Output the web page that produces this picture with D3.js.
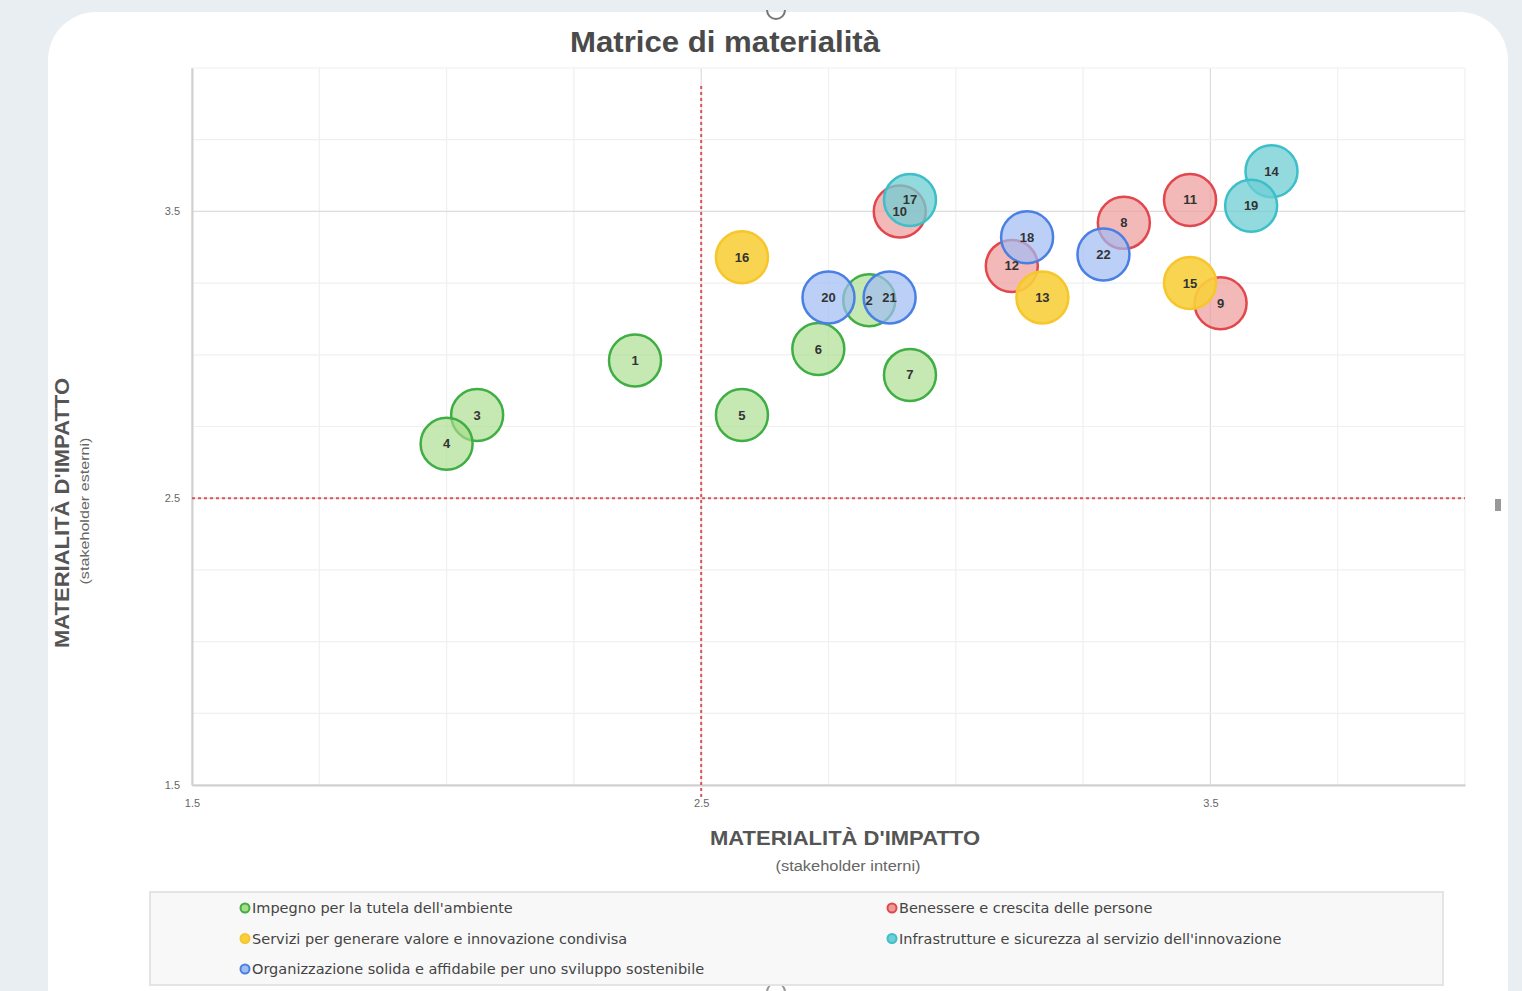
<!DOCTYPE html>
<html>
<head>
<meta charset="utf-8">
<script src="https://cdn.jsdelivr.net/npm/d3@7"></script>
<style>
  body { margin: 0; background: #e8eef1; }
  svg { display: block; }
</style>
</head>
<body>
<svg id="svgRoot" width="1522" height="991"></svg>
<script>
// data
const ids = [1, 2, 3, 4, 5, 6, 7, 8, 9, 10, 11, 12, 13, 14, 15, 16, 17, 18, 19, 20, 21, 22]
const impact_interni = [2.37, 2.83, 2.06, 2.0, 2.58, 2.73, 2.91, 3.33, 3.52, 2.89, 3.46, 3.11, 3.17, 3.62, 3.46, 2.58, 2.91, 3.14, 3.58, 2.75, 2.87, 3.29]
const impact_esterni = [2.98, 3.19, 2.79, 2.69, 2.79, 3.02, 2.93, 3.46, 3.18, 3.5, 3.54, 3.31, 3.2, 3.64, 3.25, 3.34, 3.54, 3.41, 3.52, 3.2, 3.2, 3.35]
const group_of = ["amb", "amb", "amb", "amb", "amb", "amb", "amb", "pers", "pers", "pers", "pers", "pers", "serv", "infra", "serv", "serv", "infra", "org", "infra", "org", "org", "org"]

const groups = ["amb", "pers", "serv", "infra", "org"]
const group_names = [
  "Impegno per la tutela dell'ambiente",
  "Benessere e crescita delle persone",
  "Servizi per generare valore e innovazione condivisa",
  "Infrastrutture e sicurezza al servizio dell'innovazione",
  "Organizzazione solida e affidabile per uno sviluppo sostenibile"
]
const x_ticks = [1.5, 2.5, 3.5]
const y_ticks = [1.5, 2.5, 3.5]
const threshold = 2.5

const colors = {
  amb:   { fill: "#a8dc8a", stroke: "#3fae44", op: 0.65 },
  pers:  { fill: "#ee9a9a", stroke: "#e2474d", op: 0.7 },
  serv:  { fill: "#f8cf3e", stroke: "#f6c62a", op: 0.9 },
  infra: { fill: "#6fcdd4", stroke: "#3cbfc8", op: 0.75 },
  org:   { fill: "#9fbcf3", stroke: "#4a7fe3", op: 0.7 }
}

let data = ids.map((id, i) => ({ id: id, x: impact_interni[i], y: impact_esterni[i], g: group_of[i] }))

let svg = d3.select("#svgRoot")
const font = "'Liberation Sans', Arial, sans-serif"
const font2 = "'DejaVu Sans', Verdana, sans-serif"

// card
svg.append("rect").attr("x", 48).attr("y", 12).attr("width", 1460).attr("height", 1040)
  .attr("rx", 48).attr("fill", "#ffffff")

// little handles (top / bottom)
svg.append("path").attr("d", "M767,10 A8,8 0 0 0 785,10").attr("fill", "none")
  .attr("stroke", "#777").attr("stroke-width", 2)
svg.append("path").attr("d", "M767,992 A8,8 0 0 1 785,992").attr("fill", "none")
  .attr("stroke", "#999").attr("stroke-width", 2)

const margin = { top: 68, left: 192, bottom: 785, right: 1465 }

let scale_x = d3.scaleLinear().domain([1.5, 4.0]).range([margin.left, margin.right])
let scale_y = d3.scaleLinear().domain([1.5, 4.0]).range([margin.bottom, margin.top])

// title
svg.append("text").attr("x", 725).attr("y", 52).attr("text-anchor", "middle")
  .attr("font-family", font).attr("font-weight", "bold").attr("font-size", "30px")
  .attr("textLength", 310).attr("lengthAdjust", "spacingAndGlyphs")
  .attr("fill", "#4a4a4a").text("Matrice di materialità")

// grid
let g_grid = svg.append("g").attr("class", "g_grid")
let minor = d3.range(1.5, 4.001, 0.25)
g_grid.selectAll(".vgrid").data(minor).enter().append("line")
  .attr("x1", (d) => scale_x(d)).attr("x2", (d) => scale_x(d))
  .attr("y1", margin.top).attr("y2", margin.bottom)
  .attr("stroke", (d) => x_ticks.includes(d) ? "#dcdcdc" : "#f0f0f0").attr("stroke-width", 1.2)
g_grid.selectAll(".hgrid").data(minor).enter().append("line")
  .attr("y1", (d) => scale_y(d)).attr("y2", (d) => scale_y(d))
  .attr("x1", margin.left).attr("x2", margin.right)
  .attr("stroke", (d) => y_ticks.includes(d) ? "#dcdcdc" : "#f0f0f0").attr("stroke-width", 1.2)

// axes
let g_xAxis = svg.append("g").attr("transform", "translate(0," + margin.bottom + ")")
  .call(d3.axisBottom(scale_x).tickValues(x_ticks).tickSize(0).tickPadding(14).tickFormat(d3.format(".1f")))
let g_yAxis = svg.append("g").attr("transform", "translate(" + margin.left + ",0)")
  .call(d3.axisLeft(scale_y).tickValues(y_ticks).tickSize(0).tickPadding(12).tickFormat(d3.format(".1f")))
svg.selectAll(".domain").attr("stroke", "#d0d0d0").attr("stroke-width", 2)
svg.selectAll(".tick text").attr("font-family", font).attr("font-size", "11px").attr("fill", "#666")

// threshold lines
svg.append("line").attr("x1", scale_x(threshold)).attr("x2", scale_x(threshold))
  .attr("y1", 86).attr("y2", margin.bottom + 14)
  .attr("stroke", "#d9545c").attr("stroke-width", 2).attr("stroke-dasharray", "3,3")
svg.append("line").attr("x1", margin.left).attr("x2", margin.right)
  .attr("y1", scale_y(threshold)).attr("y2", scale_y(threshold))
  .attr("stroke", "#d9545c").attr("stroke-width", 2).attr("stroke-dasharray", "3,3")
svg.append("rect").attr("x", 1495).attr("y", 499).attr("width", 6).attr("height", 12).attr("fill", "#999")

// bubbles: circles first, then all labels on top
let g_bubbles = svg.append("g").attr("class", "g_bubbles")
g_bubbles.selectAll(".bubble").data(data).enter().append("circle").attr("class", "bubble")
  .attr("cx", (d) => scale_x(d.x)).attr("cy", (d) => scale_y(d.y)).attr("r", 26)
  .attr("fill", (d) => colors[d.g].fill).attr("fill-opacity", (d) => colors[d.g].op)
  .attr("stroke", (d) => colors[d.g].stroke).attr("stroke-width", 2.5)
let g_labels = svg.append("g").attr("class", "g_labels")
g_labels.selectAll(".lbl").data(data).enter().append("text").attr("class", "lbl")
  .attr("x", (d) => scale_x(d.x)).attr("y", (d) => scale_y(d.y))
  .attr("text-anchor", "middle").attr("dy", "0.35em")
  .attr("font-family", font).attr("font-weight", "bold").attr("font-size", "13px")
  .attr("fill", "#333").text((d) => d.id)

// axis titles
svg.append("text").attr("x", 845).attr("y", 845).attr("text-anchor", "middle")
  .attr("font-family", font).attr("font-weight", "bold").attr("font-size", "20px")
  .attr("textLength", 270).attr("lengthAdjust", "spacingAndGlyphs")
  .attr("fill", "#555").text("MATERIALITÀ D'IMPATTO")
svg.append("text").attr("x", 848).attr("y", 871).attr("text-anchor", "middle")
  .attr("font-family", font).attr("font-size", "14px")
  .attr("textLength", 145).attr("lengthAdjust", "spacingAndGlyphs")
  .attr("fill", "#666").text("(stakeholder interni)")
svg.append("text").attr("transform", "translate(69, 513) rotate(-90)").attr("text-anchor", "middle")
  .attr("font-family", font).attr("font-weight", "bold").attr("font-size", "20px")
  .attr("textLength", 270).attr("lengthAdjust", "spacingAndGlyphs")
  .attr("fill", "#555").text("MATERIALITÀ D'IMPATTO")
svg.append("text").attr("transform", "translate(89, 511) rotate(-90)").attr("text-anchor", "middle")
  .attr("font-family", font).attr("font-size", "12px")
  .attr("textLength", 147).attr("lengthAdjust", "spacingAndGlyphs")
  .attr("fill", "#666").text("(stakeholder esterni)")

// legend
let g_legend = svg.append("g").attr("class", "g_legend")
g_legend.append("rect").attr("x", 150).attr("y", 892).attr("width", 1293).attr("height", 93)
  .attr("fill", "#f8f8f8").attr("stroke", "#e4e4e4").attr("stroke-width", 2)
let items = g_legend.selectAll(".item").data(groups).enter().append("g").attr("class", "item")
  .attr("transform", (d, i) => `translate(${i % 2 == 0 ? 245 : 892}, ${908 + Math.floor(i / 2) * 30.5})`)
items.append("circle").attr("r", 4.5)
  .attr("fill", (d) => colors[d].fill).attr("stroke", (d) => colors[d].stroke).attr("stroke-width", 2)
items.append("text").attr("x", 7).attr("dy", "0.35em")
  .attr("font-family", font2).attr("font-size", "14.5px").attr("fill", "#444")
  .text((d, i) => group_names[i])
</script>
</body>
</html>
